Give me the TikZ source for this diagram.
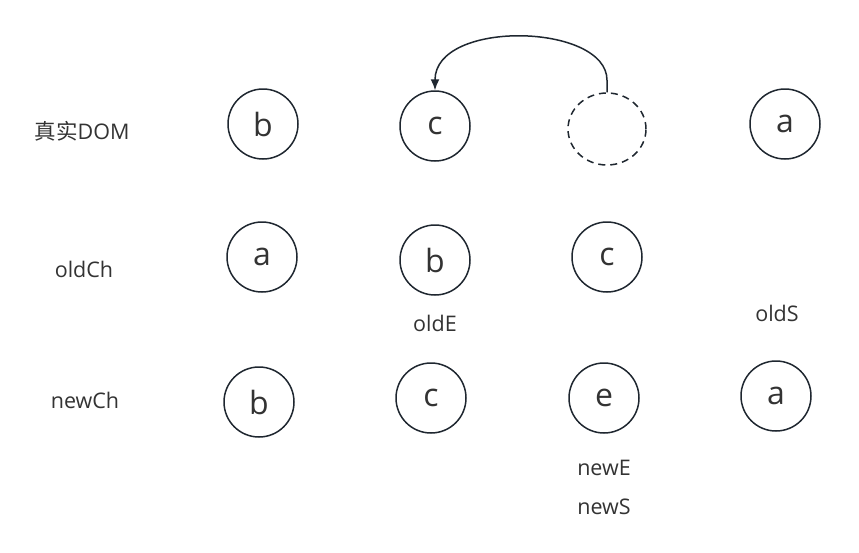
\documentclass[tikz,border=0pt]{standalone}
\usepackage{fontspec}
\setmainfont{Open Sans}
\newfontfamily\cjk{Noto Sans CJK SC}
\usepackage{xcolor}
\usetikzlibrary{shapes.geometric,arrows.meta}
\definecolor{ringcol}{HTML}{1F2730}
\definecolor{txtcol}{HTML}{333333}

\begin{document}
\begin{tikzpicture}[x=1pt,y=-1pt,
  vnode/.style={draw=ringcol,circle,line width=1.5pt,minimum size=70pt,inner sep=0pt,
    text=txtcol,font=\fontsize{32}{32}\selectfont},
  ghost/.style={draw=ringcol,ellipse,dashed,dash pattern=on 7pt off 5pt,line width=1.5pt,
    minimum width=78pt,minimum height=72pt,inner sep=0pt},
  lbl/.style={text=txtcol,font=\fontsize{21.5}{21.5}\selectfont}]
\useasboundingbox (0,0) rectangle (859,552);
% row labels
\node[lbl](dom) at (82,131){{\cjk 真实}DOM};
\node[lbl](oldch) at (84,269){oldCh};
\node[lbl](newch) at (85,400){newCh};
% real DOM
\node[vnode](rb) at (263,124){b};
\node[vnode](rc) at (435,126){c};
\node[ghost](rx) at (607,129){};
\node[vnode](ra) at (785,124){a};
% old children
\node[vnode](oa) at (262,257){a};
\node[vnode](ob) at (435,260){b};
\node[vnode](oc) at (607,257){c};
\node[lbl](olde) at (435,323){oldE};
\node[lbl](olds) at (777,313){oldS};
% new children
\node[vnode](nb) at (259,402){b};
\node[vnode](nc) at (431,398){c};
\node[vnode](ne) at (604,398){e};
\node[vnode](na) at (776,396){a};
\node[lbl](newe) at (604,468){newE};
\node[lbl](news) at (604,507){newS};
% move c before b
\draw[ringcol,line width=1.5pt,-{Latex[length=11pt,width=9pt]}] (rx.north) -- ++(0,-12)
  .. controls (607,23) and (435,19) .. (rc.north);
\end{tikzpicture}
\end{document}
